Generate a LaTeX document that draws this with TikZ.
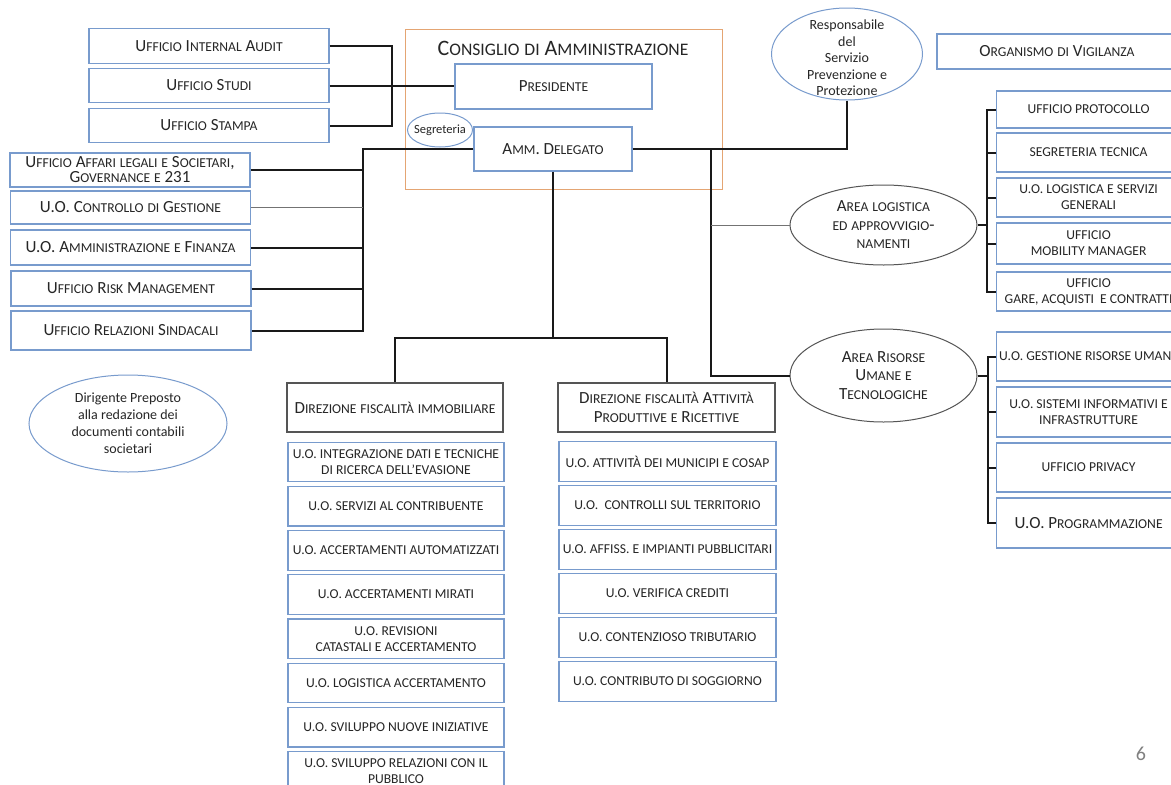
\documentclass[tikz,border=0pt]{standalone}
\usepackage{fontspec}
\setmainfont{Carlito}
\usetikzlibrary{positioning,shapes.geometric}

\definecolor{boxblue}{RGB}{120,155,205}
\definecolor{cdaorange}{RGB}{228,165,115}
\definecolor{dirgray}{RGB}{85,85,85}

\ExplSyntaxOn
\cs_new_protected:Npn \fsc_char:N #1
  {
    \bool_lazy_or:nnTF
      { \int_compare_p:nNn { \char_value_uccode:n { `#1 } } = { 0 } }
      { \int_compare_p:nNn { \char_value_uccode:n { `#1 } } = { `#1 } }
      { #1 }
      {
        {
          \fontsize { \fp_eval:n { 0.8 * \use:c { f@size } } } { 0 } \selectfont
          \char_generate:nn { \char_value_uccode:n { `#1 } } { 11 }
        }
      }
  }
\NewDocumentCommand \fsc { m }
  {
    \str_map_inline:nn { #1 }
      { \str_if_eq:nnTF { ##1 } { ~ } { ~ } { \fsc_char:N ##1 } }
  }
\ExplSyntaxOff

\begin{document}
\begin{tikzpicture}[x=1pt,y=1pt,on grid,
  every node/.style={text=black!85,inner sep=1pt},
  ufficio/.style={draw=boxblue,line width=1.2pt,minimum width=240,minimum height=34.5,align=center,font=\fontsize{17}{15}\selectfont},
  uo/.style={draw=boxblue,line width=1.2pt,minimum width=216,minimum height=39.5,align=center,font=\fontsize{13.6}{16}\selectfont},
  uodx/.style={uo,anchor=west,minimum width=184},
  direzione/.style={draw=dirgray,line width=1.2pt,minimum height=49,align=center,font=\fontsize{17}{19}\selectfont},
  area/.style={ellipse,draw=dirgray,line width=1pt,minimum width=187,align=center,font=\fontsize{17}{18.5}\selectfont},
  nota/.style={ellipse,draw=boxblue,line width=1pt},
  notatxt/.style={align=center,font=\fontsize{14}{16.5}\selectfont},
  link/.style={line width=2pt,black!90},
  thinlink/.style={line width=1pt,black!55}]
	\path[use as bounding box,fill=white] (0,0) rectangle (1171,-785);

	\node[draw=cdaorange,line width=1pt,minimum width=317,minimum height=160](cda) at (563.5,-109){};
	\node[font=\fontsize{22}{22}\selectfont](cdatitolo) at (563,-48){\fsc{Consiglio di Amministrazione}};
	\node[ufficio,minimum width=197,minimum height=45](pres) at (553.5,-86.5){\fsc{Presidente}};
	\node[ufficio,minimum width=158,minimum height=44](amm) at (553,-149){\fsc{Amm. Delegato}};
	\node[nota,minimum width=65,minimum height=34](segr) at (440,-130){};
	\node[font=\fontsize{12.5}{13}\selectfont](segrtxt) at (segr.center){Segreteria};

	\node[ufficio](audit) at (209,-46){\fsc{Ufficio Internal Audit}};
	\node[ufficio](studi) at (209,-85.5){\fsc{Ufficio Studi}};
	\node[ufficio](stampa) at (209,-125.5){\fsc{Ufficio Stampa}};

	\node[ufficio,minimum height=34](affari) at (130,-170){\fsc{Ufficio Affari legali e Societari,}\\\fsc{Governance e 231}};
	\node[ufficio,minimum height=33](controllo) at (130.5,-207.5){\fsc{U.O. Controllo di Gestione}};
	\node[ufficio,minimum height=35](ammfin) at (130.5,-247.5){\fsc{U.O. Amministrazione e Finanza}};
	\node[ufficio,minimum height=35](risk) at (131,-288.5){\fsc{Ufficio Risk Management}};
	\node[ufficio,minimum height=39](relaz) at (131,-330.5){\fsc{Ufficio Relazioni Sindacali}};

	\node[nota,minimum width=198,minimum height=97,notatxt,font=\fontsize{14}{17}\selectfont](dirigente) at (128,-423.5){Dirigente Preposto\\alla redazione dei\\documenti contabili\\societari};

	\node[nota,minimum width=151,minimum height=92](rspp) at (847,-54){};
	\node[notatxt](rspptxt) at (847,-58){Responsabile\\del\\Servizio\\Prevenzione e\\Protezione};
	\node[ufficio,minimum height=35](odv) at (1057,-51.5){\fsc{Organismo di Vigilanza}};

	\node[area,minimum height=80](logistica) at (883.5,-225){\fsc{Area logistica}\\\fsc{ed approvvigio-}\\\fsc{namenti}};
	\node[area,minimum height=93](risorse) at (883.5,-375.5){\fsc{Area  Risorse}\\\fsc{Umane e}\\\fsc{Tecnologiche}};

	\node[uodx,minimum height=37](protocollo) at (996,-109.5){UFFICIO PROTOCOLLO};
	\node[uodx,minimum height=39](segtec) at (996,-152.5){SEGRETERIA TECNICA};
	\node[uodx,minimum height=39](logsg) at (996,-197.5){U.O. LOGISTICA E SERVIZI\\GENERALI};
	\node[uodx,minimum height=41](mobility) at (996,-243.5){UFFICIO\\MOBILITY MANAGER};
	\node[uodx,minimum height=39](gare) at (996,-291.5){UFFICIO\\GARE, ACQUISTI\ \ E CONTRATTI};

	\node[uodx,minimum height=49](gru) at (996,-356.5){U.O. GESTIONE RISORSE UMANE};
	\node[uodx,minimum height=50](sistemi) at (996,-412){U.O. SISTEMI INFORMATIVI E\\INFRASTRUTTURE};
	\node[uodx,minimum height=49](privacy) at (996,-467.5){UFFICIO PRIVACY};
	\node[uodx,minimum height=50,font=\fontsize{17}{17}\selectfont](progr) at (996,-523){\fsc{U.O. Programmazione}};

	\node[direzione,minimum width=216](dirimm) at (395,-407.5){\fsc{Direzione fiscalità immobiliare}};
	\node[uo](imm1) at (396,-462){U.O. INTEGRAZIONE DATI E TECNICHE\\DI RICERCA DELL’EVASIONE};
	\node[uo](imm2)[below=44.2 of imm1]{U.O. SERVIZI AL CONTRIBUENTE};
	\node[uo](imm3)[below=44.2 of imm2]{U.O. ACCERTAMENTI AUTOMATIZZATI};
	\node[uo](imm4)[below=44.2 of imm3]{U.O. ACCERTAMENTI MIRATI};
	\node[uo](imm5)[below=44.2 of imm4]{U.O. REVISIONI\\CATASTALI E ACCERTAMENTO};
	\node[uo](imm6)[below=44.2 of imm5]{U.O. LOGISTICA ACCERTAMENTO};
	\node[uo](imm7)[below=44.2 of imm6]{U.O. SVILUPPO NUOVE INIZIATIVE};
	\node[uo](imm8)[below=44.2 of imm7]{U.O. SVILUPPO RELAZIONI CON IL\\PUBBLICO};

	\node[direzione,minimum width=217](diratt) at (666.5,-407.5){\fsc{Direzione fiscalità Attività}\\\fsc{Produttive e Ricettive}};
	\node[uo,minimum width=217](att1) at (667.5,-461.5){U.O. ATTIVITÀ DEI MUNICIPI E COSAP};
	\node[uo,minimum width=217](att2)[below=44 of att1]{U.O.\ \ CONTROLLI SUL TERRITORIO};
	\node[uo,minimum width=217](att3)[below=44 of att2]{U.O. AFFISS. E IMPIANTI PUBBLICITARI};
	\node[uo,minimum width=217](att4)[below=44 of att3]{U.O. VERIFICA CREDITI};
	\node[uo,minimum width=217](att5)[below=44 of att4]{U.O. CONTENZIOSO TRIBUTARIO};
	\node[uo,minimum width=217](att6)[below=44 of att5]{U.O. CONTRIBUTO DI SOGGIORNO};

	\node[text=black!50,font=\fontsize{20}{20}\selectfont](pagina) at (1141,-754){6};

	\coordinate (busP) at (392,-85.5);
	\coordinate (busD) at (363,-149);
	\coordinate (busR) at (711,-149);
	\coordinate (busL) at (987,-225);
	\coordinate (busU) at (988,-375.5);
	\coordinate (split) at (553,-338);

	\draw[link] (audit.east) -| (busP) |- (stampa.east);
	\draw[link] (studi.east) -- (busP) -- (busP -| pres.west);

	\draw[link] (amm.west) -- (busD) |- (relaz.east);
	\draw[link] (affari.east) -- (affari.east -| busD);
	\draw[thinlink] (controllo.east) -- (controllo.east -| busD);
	\draw[link] (ammfin.east) -- (ammfin.east -| busD);
	\draw[link] (risk.east) -- (risk.east -| busD);

	\draw[link] (amm.east) -| (rspp.south);
	\draw[link] (busR) |- (risorse.west);
	\draw[thinlink] (busR |- logistica.west) -- (logistica.west);

	\draw[link] (logistica.east) -- (busL);
	\draw[link] (protocollo.west) -| (busL) |- (gare.west);
	\draw[link] (segtec.west) -- (segtec.west -| busL);
	\draw[link] (logsg.west) -- (logsg.west -| busL);
	\draw[link] (mobility.west) -- (mobility.west -| busL);

	\draw[link] (risorse.east) -- (busU);
	\draw[link] (gru.west) -| (busU) |- (progr.west);
	\draw[link] (sistemi.west) -- (sistemi.west -| busU);
	\draw[link] (privacy.west) -- (privacy.west -| busU);

	\draw[link] (amm.south) -- (split) -| (dirimm.north);
	\draw[link] (split) -| (diratt.north);
\end{tikzpicture}
\end{document}
